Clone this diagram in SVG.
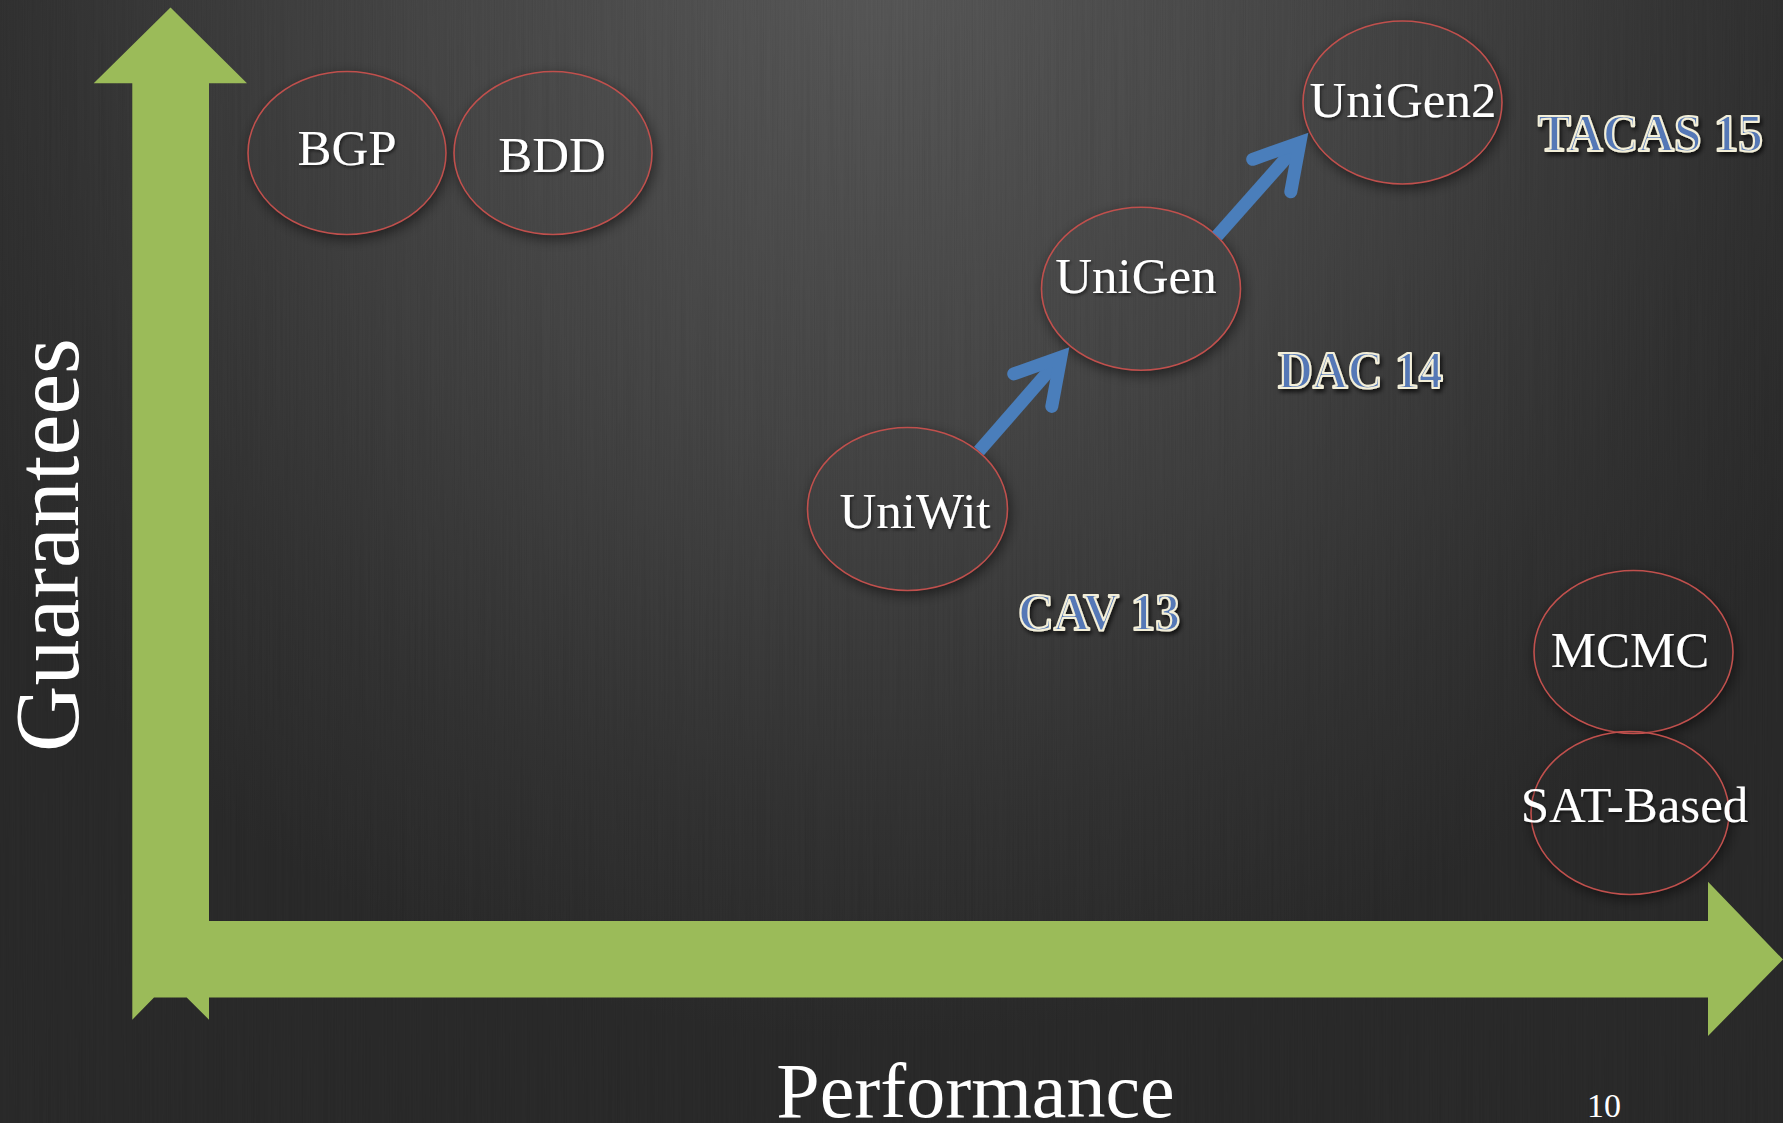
<svg xmlns="http://www.w3.org/2000/svg" width="1783" height="1123" viewBox="0 0 1783 1123">
  <defs>
    <radialGradient id="bg" gradientUnits="userSpaceOnUse" cx="880" cy="-40" r="1080">
      <stop offset="0" stop-color="#585858"/>
      <stop offset="0.45" stop-color="#454545"/>
      <stop offset="0.8" stop-color="#323232"/>
      <stop offset="1" stop-color="#2a2a2a"/>
    </radialGradient>
    <!-- faint vertical brushed grain -->
    <filter id="grain" x="0" y="0" width="100%" height="100%">
      <feTurbulence type="fractalNoise" baseFrequency="0.9 0.004" numOctaves="2" seed="3" result="n"/>
      <feColorMatrix in="n" type="matrix" values="0 0 0 0 0  0 0 0 0 0  0 0 0 0 0  0 0 0 -1.2 0.75"/>
    </filter>
    <!-- soft shadow kept outside the ellipse outline -->
    <filter id="halo" x="-30%" y="-30%" width="160%" height="160%">
      <feGaussianBlur in="SourceAlpha" stdDeviation="7" result="b"/>
      <feOffset in="b" dx="2" dy="4" result="o"/>
      <feComposite in="o" in2="SourceAlpha" operator="out" result="s"/>
      <feComponentTransfer in="s">
        <feFuncA type="linear" slope="0.55"/>
      </feComponentTransfer>
    </filter>
    <filter id="txtshadow" x="-10%" y="-20%" width="120%" height="140%">
      <feDropShadow dx="1.5" dy="2" stdDeviation="1.5" flood-color="#000" flood-opacity="0.5"/>
    </filter>
    <filter id="tagshadow" x="-10%" y="-30%" width="120%" height="160%">
      <feDropShadow dx="2" dy="3" stdDeviation="2" flood-color="#000" flood-opacity="0.7"/>
    </filter>
    <style>
      .halo { fill: #000; filter: url(#halo); }
      .ring { fill: none; stroke: #c0504d; stroke-width: 1.6; }
      .lbl { font-family: "Liberation Serif", "Times New Roman", serif; font-size: 51px; fill: #ffffff; text-anchor: middle; filter: url(#txtshadow); }
      .tag { font-family: "Liberation Serif", "Times New Roman", serif; font-weight: bold; font-size: 52px; fill: #5578b6; stroke: #f3efd9; stroke-width: 2.2; stroke-linejoin: round; filter: url(#tagshadow); }
      .axislbl { font-family: "Liberation Serif", "Times New Roman", serif; fill: #ffffff; text-anchor: middle; }
      .shaft { fill: none; stroke: #4a7ebb; stroke-width: 13; stroke-linecap: butt; }
      .head { fill: none; stroke: #4a7ebb; stroke-width: 13; stroke-linecap: round; stroke-linejoin: miter; stroke-miterlimit: 4; }
    </style>
  </defs>

  <!-- background -->
  <rect width="1783" height="1123" fill="url(#bg)"/>
  <rect width="1783" height="1123" filter="url(#grain)" opacity="0.10"/>

  <!-- axes: one green L-shaped double arrow -->
  <g id="axes">
    <polygon fill="#9bbb59" points="170.5,7.5 247,83.3 209,83.3 209,921 1708,921 1708,881.7 1783,959.5 1708,1036 1708,997.5 209,997.5 209,1019.7 186.7,997.5 154,997.5 132.3,1019.7 132.3,83.3 93.7,83.3"/>
  </g>

  <!-- axis titles -->
  <text id="y-title" class="axislbl" font-size="92" transform="translate(78,545) rotate(-90)">Guarantees</text>
  <text id="x-title" class="axislbl" font-size="78" x="975.5" y="1117">Performance</text>
  <text id="page-number" class="axislbl" font-size="34" x="1604" y="1117">10</text>

  <!-- nodes -->
  <g id="node-bgp">
    <ellipse class="halo" cx="347" cy="153" rx="99" ry="81.5"/>
    <ellipse class="ring" cx="347" cy="153" rx="99" ry="81.5"/>
    <text class="lbl" x="347" y="165">BGP</text>
  </g>
  <g id="node-bdd">
    <ellipse class="halo" cx="553" cy="153" rx="99" ry="81.5"/>
    <ellipse class="ring" cx="553" cy="153" rx="99" ry="81.5"/>
    <text class="lbl" x="552" y="171.7">BDD</text>
  </g>
  <g id="node-unigen2">
    <ellipse class="halo" cx="1402.5" cy="102.5" rx="99.5" ry="81.5"/>
    <ellipse class="ring" cx="1402.5" cy="102.5" rx="99.5" ry="81.5"/>
    <text class="lbl" x="1403" y="116.7">UniGen2</text>
  </g>
  <g id="node-unigen">
    <ellipse class="halo" cx="1141" cy="288.7" rx="99.5" ry="81.5"/>
    <ellipse class="ring" cx="1141" cy="288.7" rx="99.5" ry="81.5"/>
    <text class="lbl" x="1136" y="292.7">UniGen</text>
  </g>
  <g id="node-uniwit">
    <ellipse class="halo" cx="907.5" cy="509" rx="100" ry="81.5"/>
    <ellipse class="ring" cx="907.5" cy="509" rx="100" ry="81.5"/>
    <text class="lbl" x="915" y="528">UniWit</text>
  </g>
  <g id="node-mcmc">
    <ellipse class="halo" cx="1633.5" cy="652" rx="99.5" ry="81.5"/>
    <ellipse class="ring" cx="1633.5" cy="652" rx="99.5" ry="81.5"/>
    <text class="lbl" x="1630" y="667">MCMC</text>
  </g>
  <g id="node-sat-based">
    <ellipse class="halo" cx="1630" cy="813" rx="99" ry="81.5"/>
    <ellipse class="ring" cx="1630" cy="813" rx="99" ry="81.5"/>
    <text class="lbl" x="1634.5" y="821.7">SAT-Based</text>
  </g>

  <!-- publication venue tags -->
  <g id="tag-cav13">
    <text class="tag" x="1018" y="630" textLength="162" lengthAdjust="spacingAndGlyphs">CAV 13</text>
  </g>
  <g id="tag-dac14">
    <text class="tag" x="1278" y="388" textLength="165" lengthAdjust="spacingAndGlyphs">DAC 14</text>
  </g>
  <g id="tag-tacas15">
    <text class="tag" x="1538" y="150.7" textLength="225" lengthAdjust="spacingAndGlyphs">TACAS 15</text>
  </g>

  <!-- connectors -->
  <g id="connectors">
    <g id="edge-uniwit-unigen">
      <path class="shaft" d="M979,451 L1060.9,357.2"/>
      <path class="head" d="M1013.7,373.9 L1060.9,357.2 L1051.8,406.4"/>
    </g>
    <g id="edge-unigen-unigen2">
      <path class="shaft" d="M1217,236 L1299.9,142.6"/>
      <path class="head" d="M1252.7,159.3 L1299.9,142.6 L1290.8,191.8"/>
    </g>
  </g>
</svg>
